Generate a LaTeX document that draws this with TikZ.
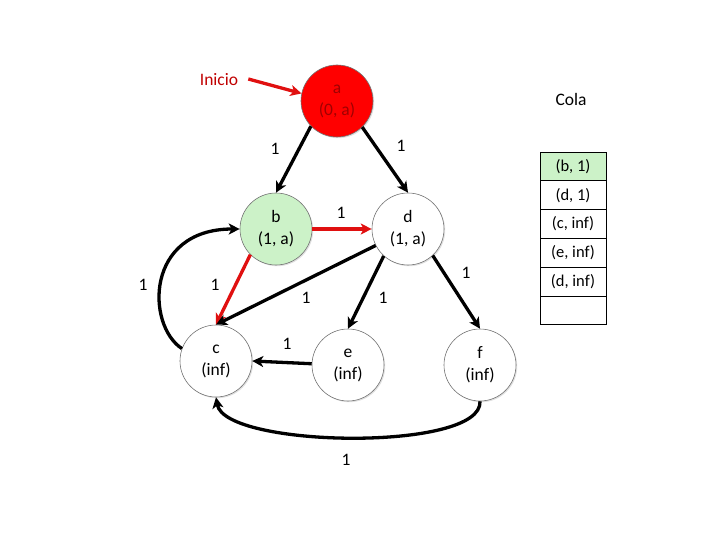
\documentclass[tikz,border=0pt]{standalone}
\usepackage{fontspec}
\setmainfont{Carlito}
\usetikzlibrary{arrows.meta,shadows}
\definecolor{nodered}{HTML}{FF0000}
\definecolor{darkred}{HTML}{A00000}
\definecolor{inicio}{HTML}{C00000}
\definecolor{lightgreen}{HTML}{CCF2C8}
\definecolor{edgered}{HTML}{E01010}
\tikzset{
  vertex/.style={circle, draw=black!55, line width=0.6pt, fill=white, minimum size=72pt,
    inner sep=0pt, align=center, font=\fontsize{17.5}{22}\selectfont,
    drop shadow={shadow xshift=1.2pt, shadow yshift=-1.2pt, opacity=0.25}},
  lbl/.style={font=\fontsize{17.5}{20}\selectfont, inner sep=0pt},
  cell/.style={draw=black, line width=0.7pt, minimum width=66pt, minimum height=28.8pt,
    inner sep=0pt, font=\fontsize{16.5}{19}\selectfont},
  arc/.style={line width=3.3pt, black, -{Stealth[length=11pt,width=11pt,inset=3pt]}},
  redarc/.style={arc, edgered},
}
\begin{document}
\begin{tikzpicture}[x=1pt,y=-1pt]
\useasboundingbox (0,0) rectangle (720,540);
% vertices
\node[vertex, fill=nodered, text=darkred] (a) at (337,101) {a\\(0, a)};
\node[vertex, fill=lightgreen] (b) at (276,229) {b\\(1, a)};
\node[vertex] (d) at (408,229) {d\\(1, a)};
\node[vertex] (c) at (216,361) {c\\(inf)};
\node[vertex] (e) at (348,365) {e\\(inf)};
\node[vertex] (f) at (480,365) {f\\(inf)};
% start label
\node[lbl, text=inicio] (ini) at (219,80) {Inicio};
\draw[redarc] (ini.east) ++(10pt,1pt) coordinate (inis) (inis) -- (a.168);
% edges
\draw[arc] (a.224) -- (b.north);
\draw[arc] (a.314) -- (d.north);
\draw[redarc] (b.east) -- (d.west);
\draw[redarc] (b.225) -- (c.north);
\draw[arc] (d.207) -- (c.north);
\draw[arc] (d.228) -- (e.north);
\draw[arc] (d.313) -- (f.north);
\draw[arc] (e.178) -- (c.east);
\draw[arc] (f.south) .. controls (483,452) and (225,448) .. (c.south);
\draw[arc] (c.160) .. controls (146,325) and (145,229) .. (b.west);
% edge labels
\node[lbl] (l1) at (275,149) {1};
\node[lbl] (l2) at (401,146) {1};
\node[lbl] (l3) at (341,213) {1};
\node[lbl] (l4) at (215,285) {1};
\node[lbl] (l5) at (306,298) {1};
\node[lbl] (l6) at (383,298) {1};
\node[lbl] (l7) at (466,273) {1};
\node[lbl] (l8) at (287,344) {1};
\node[lbl] (l9) at (346,460) {1};
\node[lbl] (l10) at (143,285) {1};
% queue
\node[lbl] (cola) at (571,99) {Cola};
\node[cell, fill=lightgreen] (q1) at (573,166.4) {(b, 1)};
\node[cell] (q2) at (573,195.2) {(d, 1)};
\node[cell] (q3) at (573,224.0) {(c, inf)};
\node[cell] (q4) at (573,252.8) {(e, inf)};
\node[cell] (q5) at (573,281.6) {(d, inf)};
\node[cell] (q6) at (573,310.4) {};
\end{tikzpicture}
\end{document}
